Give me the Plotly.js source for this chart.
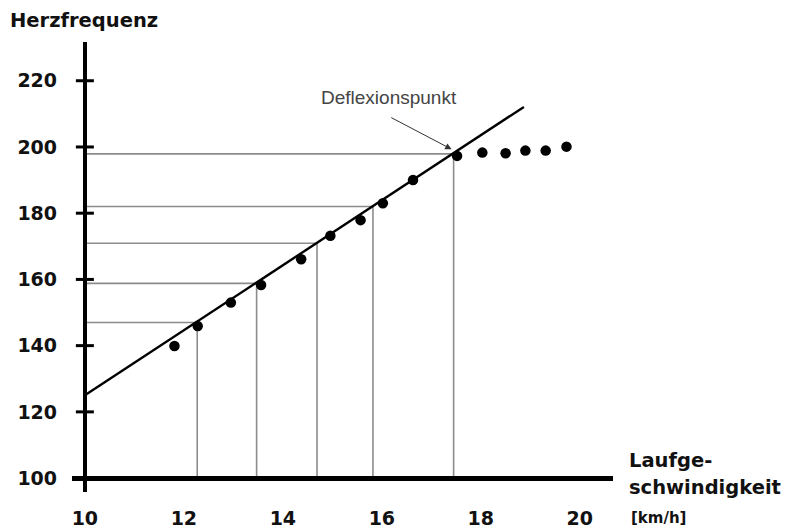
<!DOCTYPE html>
<html>
<head>
<meta charset="utf-8">
<script src="https://cdn.plot.ly/plotly-3.0.1.min.js"></script>
<style>html,body{margin:0;padding:0;background:#fff;}#chart{width:785px;height:530px;}</style>
</head>
<body>
<div id="chart"></div>
<script>
// ---- data ----
const xTicks = [10, 12, 14, 16, 18, 20];
const yTicks = [100, 120, 140, 160, 180, 200, 220];

const speed = [11.81, 12.28, 12.95, 13.56, 14.37, 14.96, 15.57, 16.02, 16.63, 17.52, 18.03, 18.50, 18.90, 19.31, 19.73];
const heartRate = [139.9, 145.9, 153.0, 158.3, 166.1, 173.2, 177.9, 183.0, 190.0, 197.3, 198.3, 198.1, 198.9, 198.9, 200.1];

const fitSpeed = [10, 18.87];
const fitRate = [125, 212.1];

const refSpeed = [12.27, 13.47, 14.69, 15.82, 17.45];
const refRate = [147.0, 158.8, 170.9, 182.0, 197.9];

const deflexHead = [17.41, 199.3];
const deflexTail = [16.16, 209.1];
const deflexLabelPos = [16.14, 215.0];

const xTitleLines = ['Laufge-', 'schwindigkeit'];
const xUnit = '[km/h]';

// ---- layout ----
const xRange = [9.74, 20.67];
const yRange = [95.8, 231.7];
const FONT = 'DejaVu Sans';

const refX = [], refY = [];
refSpeed.forEach((s, i) => {
  refX.push(xTicks[0], s, s, null);
  refY.push(refRate[i], refRate[i], yTicks[0], null);
});

const traces = [
  {x: refX, y: refY, mode: 'lines', line: {color: '#8c8c8c', width: 1.6}, hoverinfo: 'skip', showlegend: false},
  {x: fitSpeed, y: fitRate, mode: 'lines', line: {color: '#000', width: 2.4}, showlegend: false},
  {x: speed, y: heartRate, mode: 'markers', marker: {color: '#000', size: 10.5}, showlegend: false}
];

const shapes = yTicks.map(v => ({
  type: 'line', xref: 'x', yref: 'y', xsizemode: 'pixel', xanchor: xTicks[0],
  x0: -9, x1: 9, y0: v, y1: v, line: {color: '#000', width: 3}
}));

const layout = {
  width: 785, height: 530,
  margin: {l: 72, r: 172, t: 42, b: 38},
  paper_bgcolor: '#fff', plot_bgcolor: '#fff',
  showlegend: false,
  title: {
    text: 'Herzfrequenz', xref: 'container', yref: 'container',
    x: 10 / 785, xanchor: 'left', y: 1 - 20 / 530, yanchor: 'middle',
    font: {family: FONT, size: 19.5, weight: 700, color: '#111'}
  },
  xaxis: {
    range: xRange, domain: [0, 1], anchor: 'free',
    position: (yTicks[0] - yRange[0]) / (yRange[1] - yRange[0]),
    showline: true, linecolor: '#000', linewidth: 4.5,
    showgrid: false, zeroline: false, ticks: '',
    tickvals: xTicks, ticktext: xTicks.map(String),
    ticklabelstandoff: 22,
    tickfont: {family: FONT, size: 19, weight: 700, color: '#111'}
  },
  yaxis: {
    range: yRange, domain: [0, 1], anchor: 'free',
    position: (xTicks[0] - xRange[0]) / (xRange[1] - xRange[0]),
    showline: true, linecolor: '#000', linewidth: 4,
    showgrid: false, zeroline: false, ticks: '',
    tickvals: yTicks, ticktext: yTicks.map(String),
    ticklabelstandoff: 22,
    tickfont: {family: FONT, size: 19, weight: 700, color: '#111'}
  },
  shapes: shapes,
  annotations: [
    {x: deflexHead[0], y: deflexHead[1], xref: 'x', yref: 'y', ax: deflexTail[0], ay: deflexTail[1], axref: 'x', ayref: 'y',
     text: '', showarrow: true, arrowhead: 2, arrowsize: 1.3, arrowwidth: 1, arrowcolor: '#333'},
    {x: deflexLabelPos[0], y: deflexLabelPos[1], xref: 'x', yref: 'y', text: 'Deflexionspunkt', showarrow: false,
     xanchor: 'center', yanchor: 'middle', font: {family: 'Liberation Sans', size: 19, color: '#444'}},
    {x: 1.026, y: yTicks[0], xref: 'paper', yref: 'y', xanchor: 'left', yanchor: 'middle', align: 'left', yshift: 18,
     text: xTitleLines[0], showarrow: false, font: {family: FONT, size: 19.5, weight: 700, color: '#111'}},
    {x: 1.026, y: yTicks[0], xref: 'paper', yref: 'y', xanchor: 'left', yanchor: 'middle', align: 'left', yshift: -9,
     text: xTitleLines[1], showarrow: false, font: {family: FONT, size: 19.5, weight: 700, color: '#111'}},
    {x: 1.03, y: yTicks[0], xref: 'paper', yref: 'y', xanchor: 'left', yanchor: 'middle', yshift: -40,
     text: xUnit, showarrow: false, font: {family: FONT, size: 15, weight: 700, color: '#111'}}
  ]
};

Plotly.newPlot('chart', traces, layout, {displayModeBar: false, staticPlot: true});
</script>
</body>
</html>
